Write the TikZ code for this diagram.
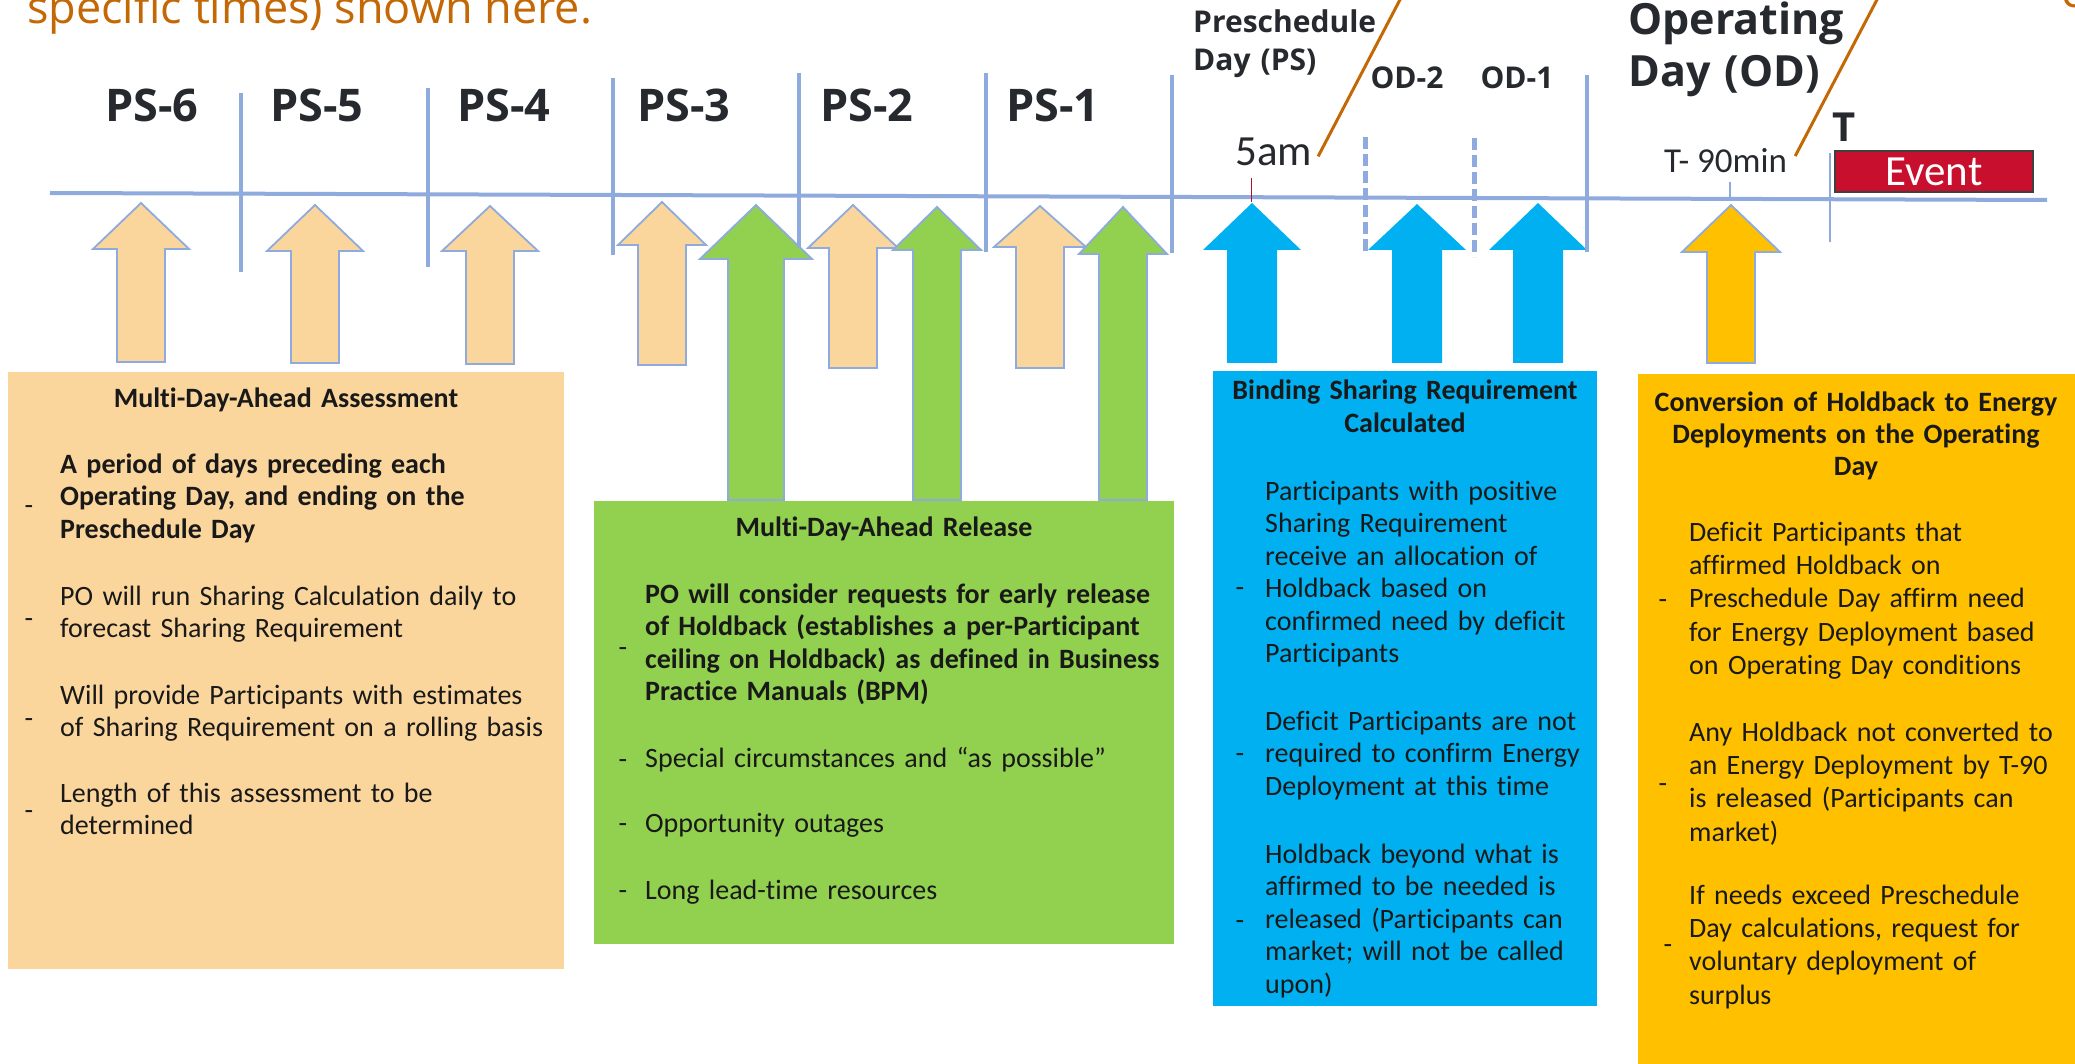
\documentclass[tikz,border=0pt]{standalone}
\usepackage{fontspec}
\setmainfont{Carlito}[Ligatures = NoCommon]
\newfontfamily\daysfont{Open Sans}[Ligatures = NoCommon]
\definecolor{axisblue}{RGB}{143,170,220}
\definecolor{peach}{RGB}{251,214,156}
\definecolor{leaf}{RGB}{146,208,80}
\definecolor{sky}{RGB}{0,176,240}
\definecolor{gold}{RGB}{255,192,0}
\definecolor{eventred}{RGB}{200,16,46}
\definecolor{darkred}{RGB}{170,20,40}
\definecolor{callout}{RGB}{196,104,6}
\definecolor{ink}{RGB}{38,42,46}
\definecolor{boxink}{RGB}{25,25,25}

\begin{document}
\begin{tikzpicture}
[x = 1pt, y = -1pt,
 axis/.style = {draw = axisblue, line width = 4pt},
 daysep/.style = {draw = axisblue, line width = 4pt},
 odsep/.style = {draw = axisblue, line width = 5pt, dash pattern = on 12pt off 5pt},
 timetick/.style = {draw = axisblue, line width = 1.2pt},
 callline/.style = {draw = callout, line width = 3pt},
 assess/.style = {draw = axisblue, line width = 1.8pt, fill = peach},
 release/.style = {draw = axisblue, line width = 1.8pt, fill = leaf},
 binding/.style = {fill = sky},
 convert/.style = {draw = axisblue, line width = 1.8pt, fill = gold},
 callnote/.style = {font = \daysfont\fontsize{45}{54}\selectfont, text = callout, inner sep = 0pt},
 daylabel/.style = {font = \daysfont\bfseries\fontsize{45}{54}\selectfont, text = ink, inner sep = 0pt},
 sublabel/.style = {font = \daysfont\bfseries\fontsize{30}{38}\selectfont, text = ink, inner sep = 0pt, text width = 240pt, align = left},
 bigday/.style = {font = \daysfont\bfseries\fontsize{43}{52}\selectfont, text = ink, inner sep = 0pt, text width = 260pt, align = left},
 timelabel/.style = {text = ink, inner sep = 0pt},
 eventbox/.style = {fill = eventred, draw = black!75, line width = 1.5pt, text = white, font = \fontsize{43}{50}\selectfont, minimum width = 198pt, minimum height = 41pt, inner sep = 0pt},
 boxhead/.style = {font = \bfseries\fontsize{28}{32.5}\selectfont, text = boxink, inner sep = 0pt, align = center},
 boxitem/.style = {font = \fontsize{28}{32.5}\selectfont, text = boxink, inner sep = 0pt, align = left, text width = 560pt},
 bulletdash/.style = {font = \fontsize{28}{32.5}\selectfont, text = boxink, inner sep = 0pt}
 ]
\clip (0,0) rectangle (2075,1064);
\fill [white] (0,0) rectangle (2075,1064);

% note text cut off by the top edge
\node [callnote, anchor = base west] (note) at (27,24) {specific times) shown here.};
\node [callnote, anchor = base west] (notetail) at (2061,8) {c};

% timeline
\draw [axis] (50,193) -- (2047,200);

% boxes
\fill [peach] (8,372) rectangle (564,969);
\fill [leaf] (594,501) rectangle (1174,944);
\fill [sky] (1213,371) rectangle (1597,1006);
\fill [gold] (1638,374) rectangle (2080,1070);

% arrows
\draw [assess] (141,203) -- (189,249) -- (165,249) -- (165,362) -- (117,362) -- (117,249) -- (93,249) -- cycle;
\draw [assess] (315,205) -- (363,251) -- (339,251) -- (339,363) -- (291,363) -- (291,251) -- (267,251) -- cycle;
\draw [assess] (490,206) -- (538,251) -- (514,251) -- (514,364) -- (466,364) -- (466,251) -- (442,251) -- cycle;
\draw [assess] (662,202) -- (706,245) -- (686,245) -- (686,365) -- (638,365) -- (638,245) -- (618,245) -- cycle;
\draw [assess] (853,205) -- (898,248) -- (877,248) -- (877,368) -- (829,368) -- (829,248) -- (808,248) -- cycle;
\draw [assess] (1040,206) -- (1086,247) -- (1064,247) -- (1064,368) -- (1016,368) -- (1016,247) -- (994,247) -- cycle;
\draw [release] (756,205) -- (812,259) -- (784,259) -- (784,500) -- (728,500) -- (728,259) -- (700,259) -- cycle;
\draw [release] (937,207) -- (981,250) -- (961,250) -- (961,500) -- (913,500) -- (913,250) -- (893,250) -- cycle;
\draw [release] (1123,207) -- (1167,254) -- (1147,254) -- (1147,500) -- (1099,500) -- (1099,254) -- (1079,254) -- cycle;
\fill [binding] (1252,203) -- (1301,250) -- (1277,250) -- (1277,363) -- (1227,363) -- (1227,250) -- (1203,250) -- cycle;
\fill [binding] (1417,204) -- (1466,250) -- (1442,250) -- (1442,363) -- (1392,363) -- (1392,250) -- (1368,250) -- cycle;
\fill [binding] (1538,203) -- (1587,250) -- (1563,250) -- (1563,363) -- (1513,363) -- (1513,250) -- (1489,250) -- cycle;
\draw [convert] (1731,205) -- (1780,252) -- (1755,252) -- (1755,363) -- (1707,363) -- (1707,252) -- (1682,252) -- cycle;

% day separators
\draw [daysep] (241,93) -- (241,272);
\draw [daysep] (428,88) -- (428,267);
\draw [daysep] (613,78) -- (613,255);
\draw [daysep] (799,73) -- (799,248);
\draw [daysep] (986,73) -- (986,252);
\draw [daysep] (1172,75) -- (1172,253);
\draw [daysep] (1587,75) -- (1587,252);
\draw [odsep] (1365,137) -- (1365,253);
\draw [odsep] (1474,138) -- (1474,257);
\draw [timetick] (1830,153) -- (1830,242);
\draw [timetick] (1730,182) -- (1730,200);
\draw [draw = darkred, line width = 1pt] (1251,178) -- (1251,202);

% day labels
\node [daylabel, anchor = base] (ps6) at (152,122) {PS-6};
\node [daylabel, anchor = base] (ps5) at (317,122) {PS-5};
\node [daylabel, anchor = base] (ps4) at (504,122) {PS-4};
\node [daylabel, anchor = base] (ps3) at (684,122) {PS-3};
\node [daylabel, anchor = base] (ps2) at (867,122) {PS-2};
\node [daylabel, anchor = base] (ps1) at (1053,122) {PS-1};
\node [sublabel, anchor = base west] (psday) at (1193,33) {Preschedule\\Day (PS)};
\node [sublabel, text width = {}, anchor = base] (od2) at (1407,89) {OD-2};
\node [sublabel, text width = {}, anchor = base] (od1) at (1517,89) {OD-1};
\node [bigday, anchor = base west] (opday) at (1628,35) {Operating\\Day (OD)};
\node [bigday, text width = {}, font = \daysfont\bfseries\fontsize{40}{48}\selectfont, anchor = base west] (tee) at (1832,142) {T};
\node [timelabel, font = \fontsize{43}{50}\selectfont, anchor = base west] (fiveam) at (1235,166) {5am};
\node [timelabel, font = \fontsize{35}{40}\selectfont, anchor = base west] (tninety) at (1664,173) {T- 90min};
\node [eventbox] (event) at (1934,171.5) {Event};

% callout lines
\coordinate (calltopa) at (1404,-8);
\coordinate (calltopb) at (1881,-8);
\draw [callline] (calltopa) -- ([xshift = 6pt, yshift = -4pt] fiveam.east);
\draw [callline] (calltopb) -- ([xshift = 8pt, yshift = 5pt] tninety.east);

% assessment text
\node [boxhead, text width = 540pt, anchor = base] (assesshead) at (286,407) {Multi-Day-Ahead Assessment};
\node [boxitem, anchor = base west] (assess1) at (60,473) {\bfseries A period of days preceding each\\Operating Day, and ending on the\\Preschedule Day};
\node [boxitem, anchor = base west] (assess2) at (60,605) {PO will run Sharing Calculation daily to\\forecast Sharing Requirement};
\node [boxitem, anchor = base west] (assess3) at (60,704) {Will provide Participants with estimates\\of Sharing Requirement on a rolling basis};
\node [boxitem, anchor = base west] (assess4) at (60,802) {Length of this assessment to be\\determined};
\node [bulletdash, anchor = base] (assessdash1) at (29,514) {-};
\node [bulletdash, anchor = base] (assessdash2) at (29,627) {-};
\node [bulletdash, anchor = base] (assessdash3) at (29,727) {-};
\node [bulletdash, anchor = base] (assessdash4) at (29,819) {-};

% release text
\node [boxhead, text width = 560pt, anchor = base] (releasehead) at (884,536) {Multi-Day-Ahead Release};
\node [boxitem, anchor = base west] (release1) at (645,603) {\bfseries PO will consider requests for early release\\of Holdback (establishes a per-Participant\\ceiling on Holdback) as defined in Business\\Practice Manuals (BPM)};
\node [boxitem, anchor = base west] (release2) at (645,767) {Special circumstances and “as possible”};
\node [boxitem, anchor = base west] (release3) at (645,832) {Opportunity outages};
\node [boxitem, anchor = base west] (release4) at (645,899) {Long lead-time resources};
\node [bulletdash, anchor = base] (releasedash1) at (623,656) {-};
\node [bulletdash, anchor = base] (releasedash2) at (623,768) {-};
\node [bulletdash, anchor = base] (releasedash3) at (623,832) {-};
\node [bulletdash, anchor = base] (releasedash4) at (623,899) {-};

% binding text
\node [boxhead, text width = 380pt, anchor = base] (bindinghead) at (1405,400) {Binding Sharing Requirement\\Calculated};
\node [boxitem, anchor = base west] (binding1) at (1265,500) {Participants with positive\\Sharing Requirement\\receive an allocation of\\Holdback based on\\confirmed need by deficit\\Participants};
\node [boxitem, anchor = base west] (binding2) at (1265,730) {Deficit Participants are not\\required to confirm Energy\\Deployment at this time};
\node [boxitem, anchor = base west] (binding3) at (1265,863) {Holdback beyond what is\\affirmed to be needed is\\released (Participants can\\market; will not be called\\upon)};
\node [bulletdash, anchor = base] (bindingdash1) at (1240,596) {-};
\node [bulletdash, anchor = base] (bindingdash2) at (1240,762) {-};
\node [bulletdash, anchor = base] (bindingdash3) at (1240,929) {-};

% conversion text
\node [boxhead, text width = 430pt, anchor = base] (converthead) at (1856,411) {Conversion of Holdback to Energy\\Deployments on the Operating\\Day};
\node [boxitem, font = \fontsize{28}{33.4}\selectfont, anchor = base west] (convert1) at (1689,541) {Deficit Participants that\\affirmed Holdback on\\Preschedule Day affirm need\\for Energy Deployment based\\on Operating Day conditions};
\node [boxitem, font = \fontsize{28}{33.4}\selectfont, anchor = base west] (convert2) at (1689,741) {Any Holdback not converted to\\an Energy Deployment by T-90\\is released (Participants can\\market)};
\node [boxitem, font = \fontsize{28}{33.4}\selectfont, anchor = base west] (convert3) at (1689,904) {If needs exceed Preschedule\\Day calculations, request for\\voluntary deployment of\\surplus};
\node [bulletdash, anchor = base] (convertdash1) at (1663,608) {-};
\node [bulletdash, anchor = base] (convertdash2) at (1663,792) {-};
\node [bulletdash, anchor = base] (convertdash3) at (1668,953) {-};
\end{tikzpicture}
\end{document}
